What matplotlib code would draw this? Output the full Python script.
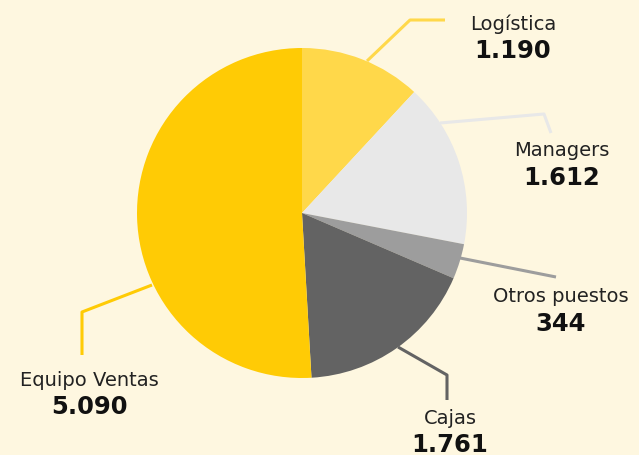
import matplotlib.pyplot as plt

# headcount by role
categories = ["Logística", "Managers", "Otros puestos", "Cajas", "Equipo Ventas"]
values = [1190, 1612, 344, 1761, 5090]
value_labels = ["1.190", "1.612", "344", "1.761", "5.090"]
colors = ["#FFD84A", "#E8E8E8", "#9D9D9D", "#636363", "#FFCB05"]

W, H = 639, 455
BG = "#FEF7E0"

# leader lines (pixel coords, y from top) and label centres
leaders = [
    [(367, 61), (410, 20), (445, 20)],
    [(440, 123), (544, 114), (551, 133)],
    [(460, 258), (556, 277)],
    [(398, 347), (447, 375), (447, 400)],
    [(152, 285), (82, 312), (82, 355)],
]
label_pos = [(513, 24), (562, 151), (561, 297), (450, 418), (89, 380)]

fig = plt.figure(figsize=(W / 100, H / 100), dpi=100)
fig.patch.set_facecolor(BG)
ax = fig.add_axes([0, 0, 1, 1])
ax.set_facecolor(BG)

ax.pie(values, colors=colors, startangle=90, counterclock=False,
       center=(302, H - 213), radius=165, frame=True,
       wedgeprops=dict(linewidth=0))
ax.set_xlim(0, W)
ax.set_ylim(0, H)
ax.set_aspect("equal")
ax.axis("off")

for pts, col in zip(leaders, colors):
    xs = [p[0] for p in pts]
    ys = [H - p[1] for p in pts]
    ax.plot(xs, ys, color=col, lw=2.2, solid_capstyle="butt", zorder=0.5)

for name, val, (x, y) in zip(categories, value_labels, label_pos):
    ax.text(x, H - y, name, ha="center", va="center", fontsize=14,
            family="DejaVu Sans", color="#222222")
    ax.text(x, H - y - 27, val, ha="center", va="center", fontsize=17.5,
            family="DejaVu Sans", fontweight="bold", color="#111111")

fig.savefig("out.png", dpi=100, facecolor=BG)
